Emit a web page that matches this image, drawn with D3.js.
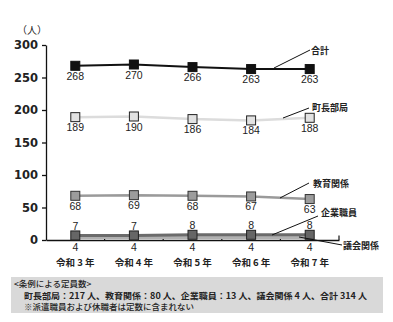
<!DOCTYPE html>
<html><head><meta charset="utf-8">
<script src="https://cdn.jsdelivr.net/npm/d3@7"></script>
<style>
html,body{margin:0;padding:0;background:#fff;}
svg{display:block;}
</style></head>
<body>
<svg id="c" width="393" height="322"></svg>
<script>
const categories = ["令和 3 年","令和 4 年","令和 5 年","令和 6 年","令和 7 年"];
const seriesNames = ["合計","町長部局","教育関係","企業職員","議会関係"];
const total = [268,270,266,263,263];
const mayorDept = [189,190,186,184,188];
const education = [68,69,68,67,63];
const enterprise = [7,7,8,8,8];
const assembly = [4,4,4,4,4];
const yTicks = [0,50,100,150,200,250,300];
const unitLabel = "（人）";
const noteTitle = "<条例による定員数>";
const noteLine1 = "町長部局：217 人、教育関係：80 人、企業職員：13 人、議会関係 4 人、合計 314 人";
const noteLine2 = "※派遣職員および休職者は定数に含まれない";

const svg = d3.select("#c");
const jp = "'Noto Sans CJK JP','Noto Sans',sans-serif";
const num = "'Liberation Sans',Arial,sans-serif";

const x = d3.scaleBand().domain(categories).range([46,339]).padding(0);
const y = d3.scaleLinear().domain([0,300]).range([240,45]);
const cx = d => x(d) + x.bandwidth()/2;

// note box
svg.append("rect").attr("x",11).attr("y",277).attr("width",372).attr("height",36).attr("fill","#d9d9d9");
svg.append("text").attr("x",14).attr("y",287).attr("font-family",jp).attr("font-size",8.5).attr("font-weight",500).attr("fill","#222").text(noteTitle);
svg.append("text").attr("x",24).attr("y",298.5).attr("font-family",jp).attr("font-size",8.5).attr("font-weight",700).attr("fill","#222")
  .attr("textLength",343).attr("lengthAdjust","spacingAndGlyphs").text(noteLine1);
svg.append("text").attr("x",24).attr("y",310).attr("font-family",jp).attr("font-size",8.5).attr("font-weight",500).attr("fill","#222").text(noteLine2);

// y axis
const yAxis = d3.axisLeft(y).tickValues(yTicks).tickSize(4).tickSizeOuter(0).tickPadding(4);
const gy = svg.append("g").attr("transform","translate(46,0)").call(yAxis);
gy.select(".domain").attr("stroke","#111").attr("stroke-width",1.3);
gy.selectAll(".tick line").attr("stroke","#111").attr("stroke-width",1.3);
gy.selectAll(".tick text").attr("font-family","'DejaVu Sans',sans-serif").attr("font-weight","bold").attr("font-size",11.5).attr("fill","#222");

svg.append("text").attr("x",17).attr("y",34).attr("font-family",jp).attr("font-size",10).attr("fill","#222").text(unitLabel);

// x axis
const xAxis = d3.axisBottom(x).tickValues([]).tickSizeOuter(0);
const gx = svg.append("g").attr("transform","translate(0,240)").call(xAxis);
gx.select(".domain").attr("stroke","#111").attr("stroke-width",1.3);
categories.forEach(c => {
  const bx = x(c) + x.bandwidth();
  svg.append("line").attr("x1",bx).attr("x2",bx).attr("y1",240).attr("y2",235.5).attr("stroke","#111").attr("stroke-width",1.2);
});
svg.selectAll(".cat").data(categories).enter().append("text")
  .attr("x",d=>cx(d)).attr("y",266).attr("text-anchor","middle")
  .attr("font-family",jp).attr("font-size",9.5).attr("font-weight",700).attr("fill","#222").text(d=>d);

const line = d3.line().x((d,i)=>cx(categories[i])).y(d=>y(d));

function drawSeries(vals, o){
  svg.append("path").datum(vals).attr("d",line).attr("fill","none")
    .attr("stroke",o.line).attr("stroke-width",o.lw);
  if(o.marker){
    svg.selectAll(null).data(vals).enter().append("rect")
      .attr("x",(d,i)=>cx(categories[i])-o.ms/2).attr("y",d=>y(d)-o.ms/2)
      .attr("width",o.ms).attr("height",o.ms)
      .attr("fill",o.fill).attr("stroke",o.stroke).attr("stroke-width",1);
  }
  svg.selectAll(null).data(vals).enter().append("text")
    .attr("x",(d,i)=>cx(categories[i])).attr("y",d=>o.below ? y(d)+14 : y(d)-5.5)
    .attr("text-anchor","middle").attr("font-family",num).attr("font-size",10.5)
    .attr("fill","#222").text(d=>d);
}

// assembly: line near axis, labels placed below axis
svg.append("path").datum(assembly).attr("d",line).attr("fill","none").attr("stroke","#b0b0b0").attr("stroke-width",3);
svg.selectAll(".asm").data(assembly).enter().append("text")
  .attr("x",(d,i)=>cx(categories[i])).attr("y",250.5).attr("text-anchor","middle")
  .attr("font-family",num).attr("font-size",10.5).attr("fill","#222").text(d=>d);

drawSeries(enterprise,{line:"#6b6b6b",lw:3,marker:true,ms:9,fill:"#666",stroke:"#222",below:false});
drawSeries(education,{line:"#9a9a9a",lw:2.5,marker:true,ms:9,fill:"#9c9c9c",stroke:"#333",below:true});
drawSeries(mayorDept,{line:"#dcdcdc",lw:2.5,marker:true,ms:9,fill:"#e2e2e2",stroke:"#222",below:true});
drawSeries(total,{line:"#111",lw:2,marker:true,ms:9,fill:"#111",stroke:"#111",below:true});

// leader lines and series name labels
const leaders = [
  {name:seriesNames[0], x1:274,y1:68,x2:310,y2:50, tx:311, ty:54},
  {name:seriesNames[1], x1:283,y1:118,x2:309,y2:108, tx:312, ty:111},
  {name:seriesNames[2], x1:280,y1:198,x2:309,y2:183, tx:313, ty:187},
  {name:seriesNames[3], x1:272,y1:235,x2:318,y2:216, tx:321, ty:216},
  {name:seriesNames[4], x1:299,y1:237,x2:342,y2:245, tx:343, ty:249}
];
leaders.forEach(l=>{
  svg.append("line").attr("x1",l.x1).attr("y1",l.y1).attr("x2",l.x2).attr("y2",l.y2).attr("stroke","#111").attr("stroke-width",1);
  svg.append("text").attr("x",l.tx).attr("y",l.ty).attr("font-family",jp).attr("font-size",9).attr("font-weight",700).attr("fill","#222").text(l.name);
});
</script>
</body></html>
